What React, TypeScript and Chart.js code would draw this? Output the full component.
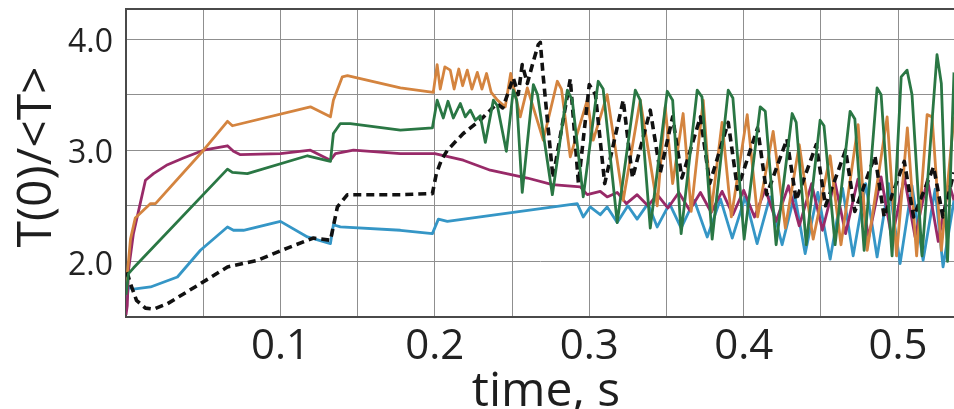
import React, { useEffect, useRef } from 'react';
import { Chart, registerables } from 'chart.js';

Chart.register(...registerables);

const xTitle = 'time, s';
const yTitle = 'T(0)/<T>';
const xTickLabels = ['0.1', '0.2', '0.3', '0.4', '0.5'];
const yTickLabels = ['2.0', '3.0', '4.0'];
const xGridValues = [0, 0.05, 0.1, 0.15, 0.2, 0.25, 0.3, 0.35, 0.4, 0.45, 0.5];
const yGridValues = [1.5, 2.0, 2.5, 3.0, 3.5, 4.0, 4.27];
const X_MIN = 0;
const X_MAX = 0.5362;
const Y_MIN = 1.5;
const Y_MAX = 4.27;

const greenT = [0, 0.0016, 0.0048, 0.0657, 0.0689, 0.0786, 0.1175, 0.1324, 0.1343, 0.1388, 0.1453, 0.1777, 0.1984,
  0.2015, 0.2055, 0.2085, 0.2120, 0.2165, 0.2197, 0.2230, 0.2262, 0.2294, 0.2327, 0.2379, 0.2405, 0.2463, 0.2508, 0.2530, 0.2566, 0.2638, 0.2665, 0.2761, 0.2858, 0.2890, 0.2961, 0.3058, 0.3090, 0.3181, 0.3298, 0.3330, 0.3395, 0.3505, 0.3540, 0.3595, 0.3699, 0.3730, 0.3796, 0.3900, 0.3930, 0.4003, 0.4107, 0.4140, 0.4210, 0.4314, 0.4340, 0.4405, 0.4495, 0.4520, 0.4592, 0.4689, 0.4720, 0.4780, 0.4864, 0.4890, 0.4961, 0.5020, 0.5058, 0.5090, 0.5155, 0.5252, 0.5280, 0.5320, 0.5362];
const greenV = [1.70, 1.89, 1.94, 2.83, 2.80, 2.79, 2.95, 2.90, 3.15, 3.24, 3.24, 3.18, 3.20,
  3.45, 3.29, 3.44, 3.29, 3.42, 3.30, 3.36, 3.27, 3.31, 3.07, 3.45, 3.40, 2.99, 3.54, 3.45, 2.62, 3.59, 3.50, 2.60, 3.54, 3.45, 2.58, 3.62, 3.55, 2.35, 3.54, 3.45, 2.30, 3.53, 3.45, 2.25, 3.54, 3.48, 2.20, 3.54, 3.47, 2.20, 3.39, 3.35, 2.15, 3.33, 3.25, 2.15, 3.27, 3.22, 2.15, 3.35, 3.28, 2.10, 3.56, 3.50, 2.05, 3.66, 3.72, 3.50, 2.05, 3.86, 3.60, 2.00, 3.70];

const orangeT = [0, 0.0029, 0.0060, 0.0159, 0.0191, 0.0502, 0.0657, 0.0689, 0.1194, 0.1324, 0.1343, 0.1401, 0.1434, 0.1777, 0.1990,
  0.2015, 0.2035, 0.2065, 0.2100, 0.2125, 0.2155, 0.2180, 0.2210, 0.2240, 0.2275, 0.2305, 0.2335, 0.2365, 0.2405, 0.2456, 0.2491, 0.2553, 0.2599, 0.2702, 0.2793, 0.2820, 0.2877, 0.2987, 0.3026, 0.3116, 0.3220, 0.3330, 0.3440, 0.3492, 0.3540, 0.3608, 0.3660, 0.3738, 0.3790, 0.3860, 0.3920, 0.4023, 0.4090, 0.4191, 0.4270, 0.4360, 0.4450, 0.4560, 0.4630, 0.4741, 0.4800, 0.4929, 0.4990, 0.5060, 0.5120, 0.5188, 0.5220, 0.5280, 0.5362];
const orangeV = [1.75, 2.20, 2.39, 2.52, 2.52, 3.00, 3.26, 3.22, 3.39, 3.30, 3.45, 3.66, 3.67, 3.56, 3.52,
  3.77, 3.55, 3.75, 3.72, 3.55, 3.73, 3.58, 3.72, 3.55, 3.70, 3.55, 3.69, 3.52, 3.45, 3.39, 3.69, 3.30, 3.56, 3.09, 3.62, 3.55, 2.94, 3.45, 3.09, 3.50, 2.55, 3.45, 2.50, 3.39, 2.70, 3.33, 2.45, 3.45, 2.45, 3.25, 2.40, 3.32, 2.40, 3.17, 2.30, 3.05, 2.20, 2.95, 2.15, 3.23, 2.10, 3.30, 2.05, 3.20, 2.05, 3.32, 3.30, 2.10, 3.30];

const blackT = [0, 0.0016, 0.0029, 0.0068, 0.0126, 0.0178, 0.0269, 0.0482, 0.0657, 0.0851, 0.1045, 0.1214, 0.1324, 0.1369, 0.1434, 0.1777, 0.1984, 0.2010, 0.2042, 0.2081, 0.2184, 0.2294, 0.2359, 0.2402, 0.2440, 0.2508, 0.2540, 0.2566, 0.2599, 0.2638, 0.2670, 0.2683, 0.2702, 0.2765, 0.2877, 0.2930, 0.3000, 0.3040, 0.3100, 0.3220, 0.3280, 0.3395, 0.3460, 0.3540, 0.3600, 0.3720, 0.3780, 0.3900, 0.3960, 0.4090, 0.4150, 0.4280, 0.4340, 0.4470, 0.4530, 0.4660, 0.4720, 0.4850, 0.4910, 0.5040, 0.5100, 0.5230, 0.5290, 0.5362];
const blackV = [1.90, 1.86, 1.80, 1.65, 1.58, 1.57, 1.62, 1.80, 1.95, 2.01, 2.12, 2.21, 2.19, 2.49, 2.60, 2.60, 2.61, 2.79, 2.91, 3.00, 3.15, 3.27, 3.36, 3.42, 3.38, 3.65, 3.50, 3.77, 3.60, 3.80, 3.95, 3.97, 3.66, 2.75, 3.64, 2.70, 3.59, 3.50, 2.70, 3.45, 2.75, 3.36, 2.80, 3.30, 2.75, 3.30, 2.70, 3.25, 2.65, 3.20, 2.60, 3.10, 2.55, 3.05, 2.50, 3.00, 2.45, 2.95, 2.40, 2.90, 2.40, 2.85, 2.40, 2.80];

const magentaT = [0, 0.0008, 0.0016, 0.0048, 0.0126, 0.0178, 0.0269, 0.0372, 0.0502, 0.0657, 0.0696, 0.0741, 0.1000, 0.1194, 0.1324, 0.1356, 0.1473, 0.1777, 0.2000, 0.2184, 0.2359, 0.2599, 0.2761, 0.2942, 0.2987, 0.3071, 0.3116, 0.3181, 0.3240, 0.3310, 0.3380, 0.3440, 0.3510, 0.3580, 0.3650, 0.3720, 0.3790, 0.3860, 0.3930, 0.4000, 0.4070, 0.4140, 0.4210, 0.4290, 0.4360, 0.4440, 0.4510, 0.4590, 0.4660, 0.4740, 0.4810, 0.4890, 0.4960, 0.5040, 0.5110, 0.5190, 0.5260, 0.5330, 0.5362];
const magentaV = [1.52, 1.60, 1.92, 2.25, 2.73, 2.79, 2.87, 2.93, 3.00, 3.04, 2.99, 2.96, 2.97, 3.00, 2.91, 2.97, 3.00, 2.97, 2.97, 2.91, 2.82, 2.75, 2.69, 2.67, 2.60, 2.63, 2.58, 2.62, 2.52, 2.60, 2.50, 2.60, 2.48, 2.62, 2.46, 2.62, 2.44, 2.63, 2.42, 2.64, 2.40, 2.65, 2.36, 2.68, 2.32, 2.70, 2.28, 2.72, 2.25, 2.74, 2.22, 2.76, 2.20, 2.76, 2.22, 2.74, 2.18, 2.70, 2.55];

const blueT = [0, 0.0016, 0.0048, 0.0159, 0.0333, 0.0482, 0.0657, 0.0696, 0.0761, 0.1000, 0.1175, 0.1324, 0.1343, 0.1388, 0.1777, 0.1984, 0.2023, 0.2081, 0.2922, 0.2961, 0.3006, 0.3071, 0.3116, 0.3181, 0.3250, 0.3310, 0.3380, 0.3440, 0.3520, 0.3595, 0.3680, 0.3764, 0.3850, 0.3926, 0.4010, 0.4087, 0.4170, 0.4249, 0.4330, 0.4398, 0.4480, 0.4560, 0.4640, 0.4709, 0.4790, 0.4864, 0.4940, 0.5013, 0.5090, 0.5162, 0.5240, 0.5291, 0.5362];
const blueV = [1.60, 1.77, 1.75, 1.77, 1.86, 2.10, 2.31, 2.28, 2.28, 2.36, 2.22, 2.16, 2.33, 2.31, 2.28, 2.25, 2.38, 2.36, 2.52, 2.40, 2.49, 2.42, 2.49, 2.35, 2.50, 2.38, 2.52, 2.31, 2.52, 2.30, 2.55, 2.22, 2.56, 2.21, 2.58, 2.16, 2.58, 2.15, 2.60, 2.07, 2.62, 2.02, 2.66, 2.05, 2.70, 2.04, 2.70, 1.98, 2.68, 2.01, 2.65, 1.95, 2.55];

const zip = (ts: number[], vs: number[]) => ts.map((t, i) => ({ x: t, y: vs[i] }));

const matchLabel = (value: number, labels: string[]) => {
  const hit = labels.find((l) => Math.abs(parseFloat(l) - value) < 1e-6);
  return hit ?? '';
};

const FONT = '"Open Sans", "DejaVu Sans", sans-serif';

const axisTitlePlugin = {
  id: 'axisTitlePlugin',
  afterDraw(chart: any) {
    const { ctx, chartArea } = chart;
    ctx.save();
    ctx.fillStyle = '#1e1e1e';
    ctx.font = `48px ${FONT}`;
    ctx.textAlign = 'center';
    ctx.textBaseline = 'alphabetic';
    ctx.fillText(xTitle, 546, chartArea.bottom + 89);
    ctx.translate(51, (chartArea.top + chartArea.bottom) / 2 - 6);
    ctx.rotate(-Math.PI / 2);
    ctx.fillText(yTitle, 0, 0);
    ctx.restore();
  },
};

export default function App() {
  const ref = useRef<HTMLCanvasElement | null>(null);

  useEffect(() => {
    if (!ref.current) return;
    const gridColor = '#8f8f8f';
    const borderColor = '#4a4a4a';
    const chart = new Chart(ref.current, {
      type: 'line',
      data: {
        datasets: [
          { label: 'green', data: zip(greenT, greenV), borderColor: '#2a7744', borderWidth: 2.8 },
          { label: 'black', data: zip(blackT, blackV), borderColor: '#111111', borderWidth: 3.6, borderDash: [8, 5] },
          { label: 'orange', data: zip(orangeT, orangeV), borderColor: '#d4843f', borderWidth: 2.8 },
          { label: 'magenta', data: zip(magentaT, magentaV), borderColor: '#982a68', borderWidth: 2.8 },
          { label: 'blue', data: zip(blueT, blueV), borderColor: '#3596c6', borderWidth: 2.8 },
        ],
      },
      options: {
        animation: false,
        responsive: false,
        devicePixelRatio: 1,
        layout: { padding: { top: 9, left: 0, right: 0, bottom: 0 } },
        elements: { point: { radius: 0 }, line: { tension: 0, fill: false, borderJoinStyle: 'round' } },
        plugins: { legend: { display: false }, tooltip: { enabled: false } },
        scales: {
          x: {
            type: 'linear',
            min: X_MIN,
            max: X_MAX,
            grid: { color: gridColor, lineWidth: 1, drawTicks: false },
            border: { color: borderColor, width: 2 },
            ticks: {
              autoSkip: false,
              maxRotation: 0,
              padding: 5,
              color: '#222',
              font: { family: FONT, size: 42 },
              callback: (v: any) => matchLabel(Number(v), xTickLabels),
            },
            afterBuildTicks: (s: any) => {
              s.ticks = xGridValues.map((v) => ({ value: v }));
            },
            afterFit: (s: any) => {
              s.height = 92;
              s.paddingLeft = 0;
              s.paddingRight = 0;
            },
          },
          y: {
            type: 'linear',
            min: Y_MIN,
            max: Y_MAX,
            grid: {
              color: (c: any) => (c.tick && c.tick.value > Y_MAX - 1e-6 ? borderColor : gridColor),
              lineWidth: (c: any) => (c.tick && c.tick.value > Y_MAX - 1e-6 ? 2 : 1),
              drawTicks: false,
            },
            border: { color: borderColor, width: 2 },
            ticks: {
              autoSkip: false,
              padding: 13,
              labelOffset: 4,
              color: '#222',
              font: { family: FONT, size: 32 },
              callback: (v: any) => matchLabel(Number(v), yTickLabels),
            },
            afterBuildTicks: (s: any) => {
              s.ticks = yGridValues.map((v) => ({ value: v }));
            },
            afterFit: (s: any) => {
              s.width = 126;
              s.paddingTop = 0;
              s.paddingBottom = 0;
            },
          },
        },
      },
      plugins: [axisTitlePlugin],
    });
    return () => chart.destroy();
  }, []);

  return (
    <div style={{ position: 'fixed', left: 0, top: 0, width: 954, height: 409, background: '#fff' }}>
      <canvas ref={ref} width={954} height={409} style={{ display: 'block' }} />
    </div>
  );
}
